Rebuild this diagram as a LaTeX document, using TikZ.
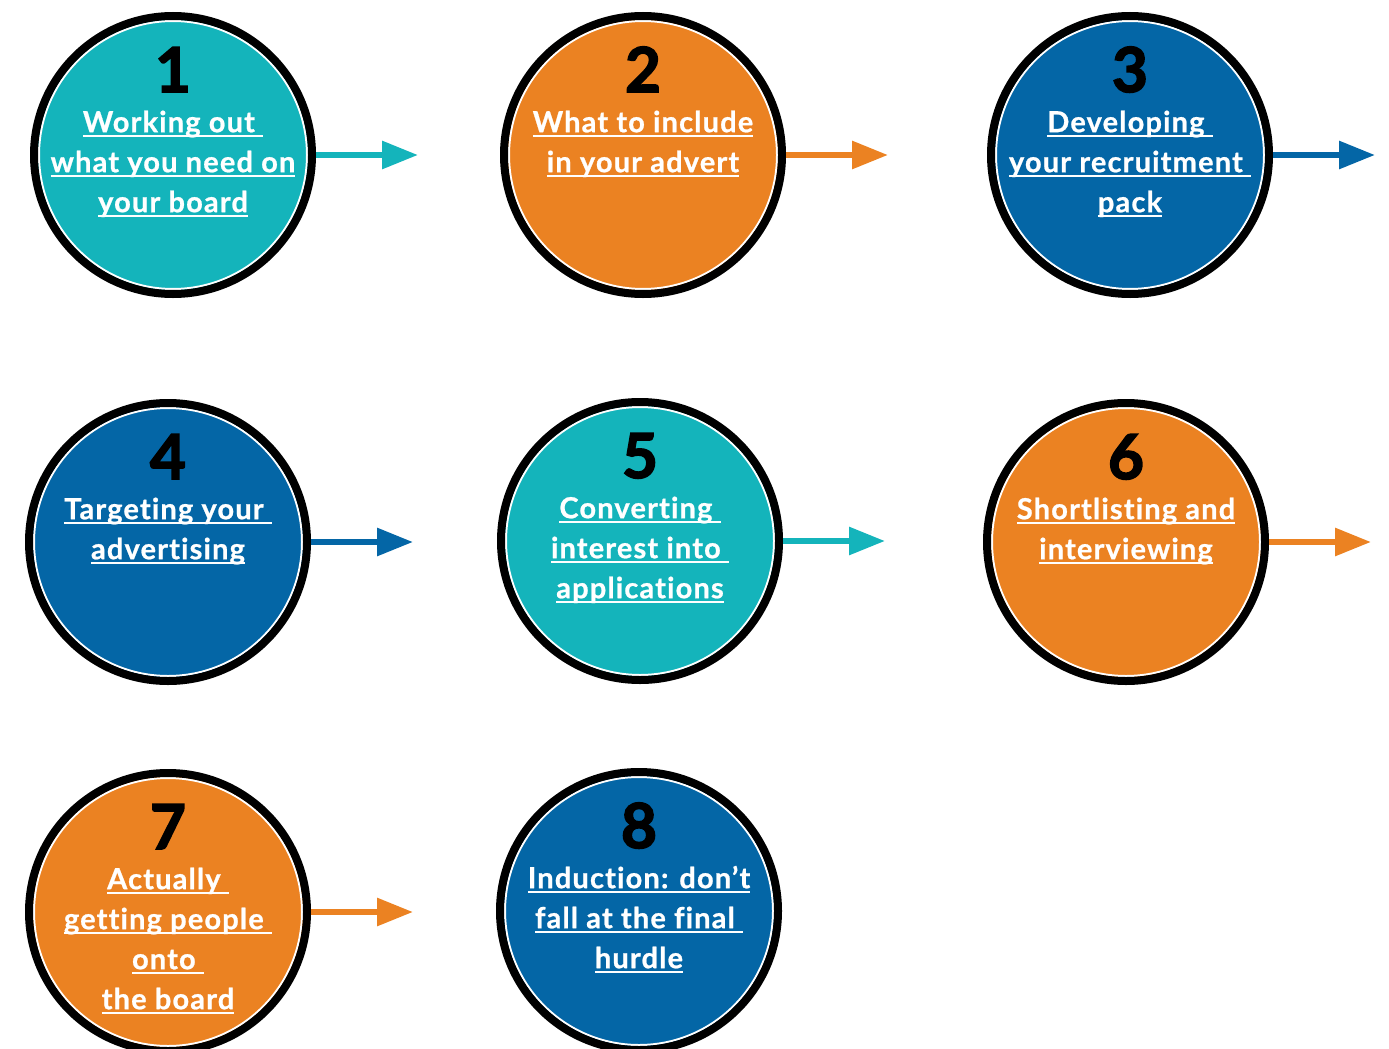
\documentclass[tikz,border=0pt]{standalone}
\usepackage{fontspec}
\setmainfont{Lato}
\newfontfamily\stepfont{Lato}[LetterSpace=4,FakeBold=0.8,Ligatures=NoCommon]
\newfontfamily\numfont{Lato}[FakeBold=2.5]
\usetikzlibrary{arrows.meta,calc}
\definecolor{tealc}{HTML}{14B4BB}
\definecolor{orangec}{HTML}{EB8222}
\definecolor{bluec}{HTML}{0466A6}
\newcommand{\ulin}[1]{\setbox0=\hbox{#1}\makebox[0pt][l]{\rule[-5pt]{\wd0}{1.8pt}}\box0\strut}
\tikzset{
  stepdisc/.style={circle, fill=#1, draw=black, line width=8pt, minimum size=278pt, inner sep=0pt,
    path picture={\draw[white, line width=2pt] (path picture bounding box.center) circle (134pt);}},
  stepnum/.style={anchor=base, inner sep=0pt, font=\fontsize{62}{62}\selectfont\numfont\bfseries},
  steptext/.style={anchor=north, align=center, inner sep=0pt, text=white, font=\fontsize{29}{40}\selectfont\stepfont\bfseries},
  steparrow/.style={#1, line width=6pt, -{Triangle[length=36pt,width=27pt]}}
}

\begin{document}
\begin{tikzpicture}[x=1pt,y=-1pt]
  \useasboundingbox (0,0) rectangle (1389,1049);

  \foreach \n/\x/\y/\col/\txt in {
      1/173/155/tealc/{\ulin{Working out }\\\ulin{what you need on}\\\ulin{your board}},
      2/643/155/orangec/{\ulin{What to include}\\\ulin{in your advert}},
      3/1130/155/bluec/{\ulin{Developing }\\\ulin{your recruitment }\\\ulin{pack}},
      4/168/542/bluec/{\ulin{Targeting your }\\\ulin{advertising}},
      5/640/541/tealc/{\ulin{Converting }\\\ulin{interest into }\\\ulin{applications}},
      6/1126/542/orangec/{\ulin{Shortlisting and}\\\ulin{interviewing}},
      7/168/912/orangec/{\ulin{Actually }\\\ulin{getting people }\\\ulin{onto }\\\ulin{the board}},
      8/639/911/bluec/{\ulin{Induction: don’t}\\\ulin{fall at the final }\\\ulin{hurdle}}} {
    \node[stepdisc=\col] (c\n) at (\x,\y) {};
    \node[stepnum] (n\n) at ([yshift=63pt]c\n.center) {\n};
    \node[steptext] (t\n) at ([yshift=51pt]c\n.center) {\txt};
  }

  % arrows to the next step
  \foreach \n/\col in {1/tealc,2/orangec,3/bluec,4/bluec,5/tealc,6/orangec,7/orangec} {
    \coordinate (a\n) at ([xshift=102pt]c\n.east);
    \draw[steparrow=\col] (c\n.east) -- (a\n);
  }
\end{tikzpicture}
\end{document}
